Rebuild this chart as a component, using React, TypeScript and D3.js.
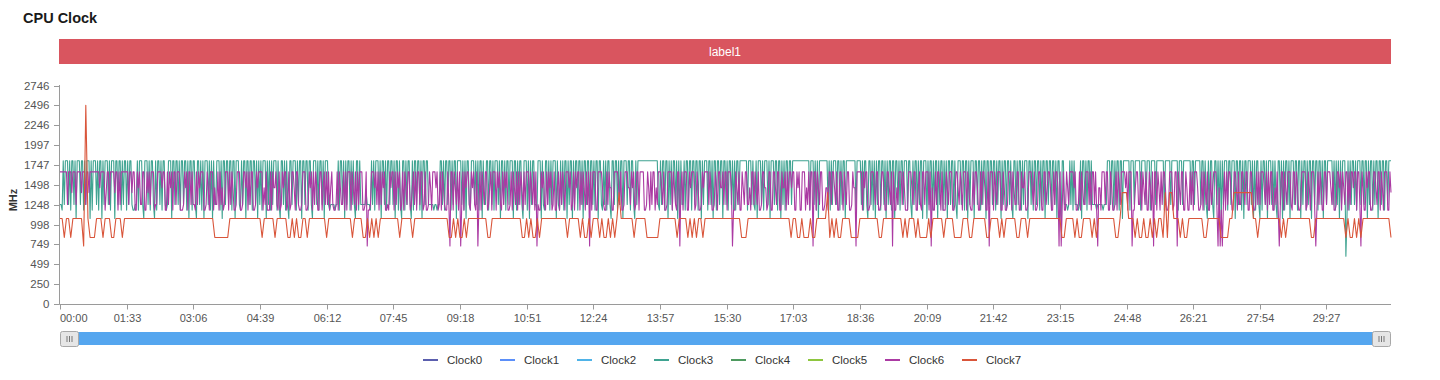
import React from 'react';
import * as d3 from 'd3';

// ---------- data ----------
const TITLE = 'CPU Clock';
const BAND_LABEL = 'label1';
const Y_AXIS_NAME = 'MHz';
const X_LABELS = ['00:00', '01:33', '03:06', '04:39', '06:12', '07:45', '09:18', '10:51', '12:24', '13:57', '15:30', '17:03', '18:36', '20:09', '21:42', '23:15', '24:48', '26:21', '27:54', '29:27'];
const X_TICK_STEP_S = 93;
const DURATION_S = 1857;
const Y_MAX = 2745.6;
const Y_TICKS = [0, 249.6, 499.2, 748.8, 998.4, 1248, 1497.6, 1747.2, 1996.8, 2246.4, 2496, 2745.6];
const SERIES_NAMES = ['Clock0', 'Clock1', 'Clock2', 'Clock3', 'Clock4', 'Clock5', 'Clock6', 'Clock7'];
const SERIES_COLORS = ['#5b5fae', '#5b8ff9', '#4fb3e8', '#3fa391', '#4e9a5f', '#8ec63f', '#ab3aa3', '#d9553a'];

const LEVEL_CODES = ['y', 'x', '0', '1', '2', '3', '4', '5', '6', '7', '8', '9', 'S'];
const LEVEL_MHZ = [600, 730, 835, 940, 1075, 1180, 1250, 1400, 1460, 1560, 1660, 1800, 2496];

// little cores (Clock0-3): one sample every ~1.5 s, one line per 93 s x-axis interval
const LITTLE_CORE_TRACE = [
  '4439499949399492999499394999293' + '9994939929499949399929949939499',
  '3949943344939994299949399429399' + '4939943499929949949399499392993',
  '9942994939299949392944999392994' + '9949939929994394992994993994929',
  '4939992949394999394299493942994' + '9993949929949939942999493994929',
  '9943444434493994929499394942993' + '9444445444394939994929949399499',
  '4929939429939499429399499392994' + '9944444344344994939949939499299',
  '9949392994399949493992944993994' + '9399949299493994999299394994299',
  '9392949944399929439949394999294' + '3949399294992949939949299499399',
  '4939929943949399429949939499299' + '9499399429499999999999999999994',
  '3949939929493994929294493994993' + '9949939929499939949299399499299',
  '4939949393994999999939994943929' + '9949399949299949939929493994994',
  '9999999999999999399949392999999' + '9949394999499394992999999999399',
  '9949399429949392949939949294993' + '9929949399499939942949939499299',
  '9294993949929499394929949939429' + '9949939929499929949939499299499',
  '4993949929499399494299394993949' + '9929949399499394992994993994929',
  '9429944434949394443492994939949' + '4444344444344499949939499399299',
  '9999399949999939999499939999499' + '9999939999949999993999499999994',
  '9949999949939429399429949392949' + '9939949992994993929949994929399',
  '4293994929994939429949293994929' + '9949939929499394992994993994929',
  '9499999493949294999y29394994939' + '9949949929499394992994993994999',
].join('');

// big cores (Clock4-6)
const BIG_CORE_TRACE = [
  '8888888488858884888858884885888' + '8888886888835884888858838488888',
  '8848858833868448833858488834488' + '8868833848683884888333486838848',
  '4438486888334863888364483846348' + '8838486334888334886838488334868',
  '8883648333838668438348688348348' + '8638843348883348683848633883684',
  '8483684334838644838388838648384' + '8883348x33488868483848683343868',
  '8384868348386488346848388488348' + '3348638886834838643384x88386483',
  '8x483868843868438x4838648834683' + '8883868438486833483864838486384',
  '8883864838x43386843848683483368' + '3848638886834838688384863848x83',
  '8883388886433848663388886483348' + '8866486834883888833486384883648',
  '8864833488883864388x68388833868' + '8834863348688884863348638866848',
  '838886x338648338648844638848648' + '3348866348833886488338668384886',
  '8833868338883648388x88386488334' + '6638848864833886386488334866x88',
  '8883868833488864883348863388648' + 'x833648884863338886488336843884',
  '88838x6338488638333864888334886' + '4863888386433848863384886338x88',
  '8386488833863348883864488338668' + '3348886483348863388468863384886x',
  '8x48338648888683348386448884838' + '8483x66388848833863348386488886',
  '83888x3368844838648338638x88386' + '3848863348883488x8648833863384',
  '838886334838648338468883x6x3x48' + '3848863388638448864883388633484',
  '8488864838488336483x48838648884' + '3884863348888348638883x38486338',
  '8488864833488683864883848868838' + '84x8633868833488648838638883385',
].join('');

// prime core (Clock7): one sample every ~3 s
const PRIME_CORE_TRACE = [
  '22022022222' + 'xS' + '2000222' + '02220022202',
  '2222222222222222222222222222222',
  '2222222222' + '0000000' + '22222222222222',
  '2022222022222002020022022222222',
  '0222222222220222200202020222222',
  '2220222220222222222222222200202',
  '0020222222222002222222222222200',
  '2020020222' + '2222222220' + '22222020020',
  '2220200202' + '0252222220' + '22222000000',
  '22222222' + '0' + '2222' + '02020' + '22' + '0' + '2222222222',
  '2222222' + '000' + '22222222222222222222' + '0',
  '2200200020' + '0222225020' + '20022220000',
  '2222222220' + '0222222222' + '02022202000',
  '0202222202' + '2220000222' + '00222222002',
  '2220202222' + '2002220222' + '22222222222',
  '2002222020' + '0222202022' + '22222200255',
  '5222020020' + '0202022050' + '55222020022',
  '2222200222' + '2220000225' + '55555555220',
  '2222222222' + '0202222222' + '22220022222',
  '2222222220' + '2002020222' + '22222222220',
].join('');

const SERIES_TRACE = [
  LITTLE_CORE_TRACE, LITTLE_CORE_TRACE, LITTLE_CORE_TRACE, LITTLE_CORE_TRACE,
  BIG_CORE_TRACE, BIG_CORE_TRACE, BIG_CORE_TRACE,
  PRIME_CORE_TRACE,
];

function decode(trace: string): number[] {
  return trace.split('').map((c) => LEVEL_MHZ[Math.max(0, LEVEL_CODES.indexOf(c))]);
}

const FONT = '"Liberation Sans", Arial, Helvetica, sans-serif';

export default function App() {
  const W = 1440;
  const H = 380;
  const left = 60;
  const right = 1391;
  const top = 85.5;
  const bottom = 304;

  const x = d3.scaleLinear().domain([0, DURATION_S]).range([left, right]);
  const y = d3.scaleLinear().domain([0, Y_MAX]).range([bottom, top]);

  const paths = SERIES_NAMES.map((name, k) => {
    const vals = decode(SERIES_TRACE[k]);
    const step = DURATION_S / (vals.length - 1);
    const line = d3
      .line<number>()
      .x((_, i) => x(i * step))
      .y((v) => y(v))
      .curve(d3.curveLinear);
    // a series whose samples equal a later-drawn series lies exactly under it
    const covered = SERIES_TRACE.some((t, j) => j > k && t === SERIES_TRACE[k]);
    return { name, color: SERIES_COLORS[k], d: line(vals) || '', covered };
  });

  const axisColor = '#9a9a9a';
  const labelColor = '#555';

  const legendX0 = 423;
  const legendStep = 77;
  const legendY = 360;

  return (
    <svg
      width={W}
      height={H}
      style={{ position: 'absolute', left: 0, top: 0, background: '#fff' }}
      fontFamily={FONT}
    >
      <rect x={0} y={0} width={W} height={H} fill="#fff" />
      {/* title */}
      <text x={23} y={23.3} fontSize={14.5} fontWeight="bold" fill="#1a1a1a">
        {TITLE}
      </text>

      {/* band */}
      <rect x={59} y={39} width={right - 59} height={25} fill="#d9555f" />
      <text x={(59 + right) / 2} y={51.5} dy="0.35em" textAnchor="middle" fontSize={12} fill="#fff">
        {BAND_LABEL}
      </text>

      {/* y axis */}
      <line x1={59.5} x2={59.5} y1={top - 0.5} y2={bottom + 0.5} stroke={axisColor} />
      {Y_TICKS.map((t) => (
        <g key={t}>
          <line x1={54} x2={59.5} y1={Math.round(y(t)) + 0.5} y2={Math.round(y(t)) + 0.5} stroke={axisColor} />
          <text x={49.5} y={y(t)} dy="0.35em" textAnchor="end" fontSize={11.5} fill={labelColor}>
            {Math.round(t)}
          </text>
        </g>
      ))}
      <text
        transform={`translate(13,200) rotate(-90)`}
        textAnchor="middle"
        dy="0.35em"
        fontSize={11}
        fontWeight="bold"
        fill="#333"
      >
        {Y_AXIS_NAME}
      </text>

      {/* x axis */}
      <line x1={59.5} x2={right} y1={bottom + 0.5} y2={bottom + 0.5} stroke={axisColor} />
      {X_LABELS.map((lab, i) => {
        const px = Math.round(x(i * X_TICK_STEP_S)) + 0.5;
        return (
          <g key={lab}>
            <line x1={px} x2={px} y1={bottom + 0.5} y2={bottom + 5.5} stroke={axisColor} />
            <text
              x={i === 0 ? px - 0.5 : px}
              y={318}
              dy="0.35em"
              textAnchor={i === 0 ? 'start' : 'middle'}
              fontSize={11}
              fill={labelColor}
            >
              {lab}
            </text>
          </g>
        );
      })}

      {/* series */}
      <g fill="none" strokeWidth={1.1} strokeLinejoin="round">
        {paths.map((p) =>
          p.covered ? null : <path key={p.name} d={p.d} stroke={p.color} />
        )}
      </g>

      {/* data zoom slider */}
      <rect x={61} y={332} width={1328} height={13} fill="#55a6ef" />
      {[60, 1372].map((hx) => (
        <g key={hx}>
          <rect x={hx + 0.5} y={331.5} width={18} height={15} rx={2} fill="#e6e6e6" stroke="#a8a8a8" />
          {[-2.5, 0, 2.5].map((o) => (
            <line
              key={o}
              x1={hx + 9.5 + o}
              x2={hx + 9.5 + o}
              y1={336}
              y2={342}
              stroke="#777"
              strokeWidth={1}
            />
          ))}
        </g>
      ))}

      {/* legend */}
      {SERIES_NAMES.map((name, k) => {
        const lx = legendX0 + k * legendStep;
        return (
          <g key={name}>
            <line x1={lx} x2={lx + 15} y1={legendY} y2={legendY} stroke={SERIES_COLORS[k]} strokeWidth={2} />
            <text x={lx + 24} y={legendY} dy="0.35em" fontSize={11.5} fill="#333">
              {name}
            </text>
          </g>
        );
      })}
    </svg>
  );
}
